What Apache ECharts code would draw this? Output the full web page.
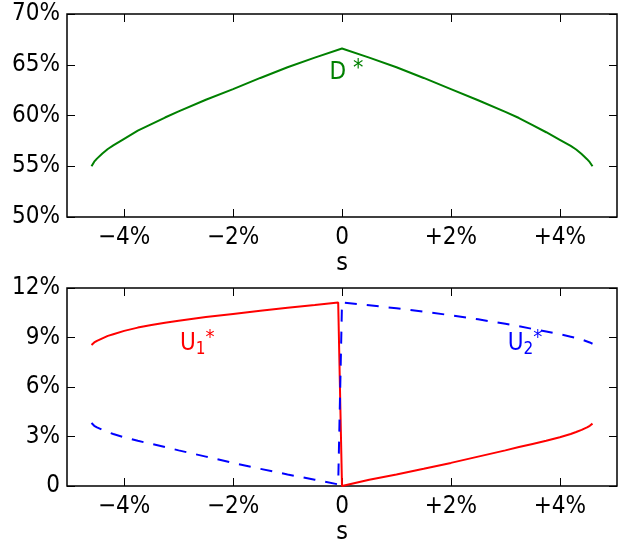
<!DOCTYPE html>
<html>
<head>
<meta charset="utf-8">
<script src="https://cdn.jsdelivr.net/npm/echarts@6/dist/echarts.min.js"></script>
<style>
html,body{margin:0;padding:0;background:#fff;}
#c{width:624px;height:546px;}
</style>
</head>
<body>
<div id="c"></div>
<script>
// ---- data (percent units) ----
const sD   = [-4.6,-4.55,-4.5,-4.4,-4.3,-4.2,-4.0,-3.75,-3.5,-3.25,-3.0,-2.5,-2.0,-1.5,-1.0,-0.5,0,
              0.5,1.0,1.5,2.0,2.5,3.0,3.25,3.5,3.75,4.0,4.2,4.3,4.4,4.5,4.55,4.6];
const dStar = [55.0,55.45,55.75,56.25,56.7,57.05,57.7,58.5,59.15,59.8,60.4,61.55,62.6,63.7,64.75,65.7,66.6,
               65.7,64.75,63.7,62.6,61.5,60.35,59.75,59.05,58.35,57.6,57.0,56.65,56.2,55.7,55.4,55.0];

const sLeft  = [-4.6,-4.55,-4.5,-4.4,-4.3,-4.2,-4.0,-3.75,-3.5,-3.25,-3.0,-2.5,-2.0,-1.5,-1.0,-0.5,-0.07];
const sRight = [0,0.5,1.0,1.5,2.0,2.5,3.0,3.25,3.5,3.75,4.0,4.2,4.3,4.4,4.5,4.55,4.6];
const u1Left  = [8.55,8.7,8.8,8.95,9.1,9.2,9.4,9.6,9.76,9.9,10.02,10.24,10.43,10.62,10.8,10.97,11.12];
const u1Right = [0,0.38,0.7,1.04,1.4,1.78,2.16,2.36,2.55,2.74,2.95,3.15,3.27,3.4,3.55,3.65,3.78];
const u2Left  = [3.82,3.65,3.55,3.4,3.27,3.15,2.95,2.74,2.55,2.36,2.16,1.78,1.4,1.04,0.7,0.38,0.1];
const u2Right = [11.12,10.95,10.77,10.56,10.35,10.1,9.83,9.68,9.52,9.36,9.2,9.05,8.97,8.88,8.76,8.7,8.62];

const xTicks = [-4,-2,0,2,4];
const yTopTicks = [50,55,60,65,70];
const yBotTicks = [0,3,6,9,12];

// annotation anchors (data coords)
const labelD  = [0.08, 64.2];
const labelU1 = [-2.66, 8.65];
const labelU2 = [3.36, 8.65];

const FONT = '"DejaVu Sans Condensed","DejaVu Sans",sans-serif';
const zip = (xs, ys) => xs.map((x, i) => [x, ys[i]]);

function xFmt(v){ if (v === 0) return '0'; return (v > 0 ? '+' : '\u2212') + Math.abs(v) + '%'; }
function yFmt(v){ return v === 0 ? '0' : v + '%'; }

const labelStyle = {color:'#000', fontFamily:FONT, fontSize:24};

function xAxis(grid, pos, main){
  return {
    type:'value', gridIndex:grid, position:pos, min:-5.05, max:5.05,
    axisLine:{show:false, onZero:false}, splitLine:{show:false},
    axisTick:{show:true, inside:true, length:8, customValues:xTicks, lineStyle:{color:'#000', width:1}},
    axisLabel: main ? Object.assign({show:true, customValues:xTicks, formatter:xFmt, margin:9}, labelStyle) : {show:false},
    name: main ? 's' : '', nameLocation:'middle', nameGap:34,
    nameTextStyle:{color:'#000', fontFamily:FONT, fontSize:25}
  };
}
function yAxis(grid, pos, main, ticks){
  return {
    type:'value', gridIndex:grid, position:pos, min:ticks[0], max:ticks[ticks.length-1],
    interval:ticks[1]-ticks[0],
    axisLine:{show:false, onZero:false}, splitLine:{show:false},
    axisTick:{show:true, inside:true, length:8, lineStyle:{color:'#000', width:1}},
    axisLabel: main ? Object.assign({show:true, formatter:yFmt, margin:7}, labelStyle) : {show:false}
  };
}

function annot(coord, fmt, color, supSize){
  return {
    symbol:'circle', symbolSize:1, itemStyle:{color:'rgba(0,0,0,0)'},
    silent:true,
    label:{show:true, position:'inside', formatter:fmt, color:color,
      rich:{
        b:{fontFamily:FONT, fontSize:24, color:color, lineHeight:30, verticalAlign:'middle'},
        sub:{fontFamily:FONT, fontSize:17, color:color, lineHeight:30, verticalAlign:'bottom'},
        sup:{fontFamily:FONT, fontSize:supSize, color:color, lineHeight:30, verticalAlign:'top'}
      }},
    data:[{coord:coord}]
  };
}

const chart = echarts.init(document.getElementById('c'), null, {renderer:'canvas'});
chart.setOption({
  animation:false,
  backgroundColor:'#fff',
  grid:[
    {left:67, right:7, top:14, height:203, show:true, borderColor:'#000', borderWidth:1.5, backgroundColor:'transparent'},
    {left:67, right:7, top:288, height:202, show:true, borderColor:'#000', borderWidth:1.5, backgroundColor:'transparent'}
  ],
  xAxis:[ xAxis(0,'bottom',true), xAxis(0,'top',false), xAxis(1,'bottom',true), xAxis(1,'top',false) ],
  yAxis:[ yAxis(0,'left',true,yTopTicks), yAxis(0,'right',false,yTopTicks), yAxis(1,'left',true,yBotTicks), yAxis(1,'right',false,yBotTicks) ],
  series:[
    {type:'line', xAxisIndex:0, yAxisIndex:0, data:zip(sD,dStar), showSymbol:false, symbol:'none',
     lineStyle:{color:'#008000', width:2}, z:3,
     markPoint:annot(labelD, '{b|D }{sup|*}', '#008000', 23)},
    {type:'line', xAxisIndex:2, yAxisIndex:2, data:zip(sLeft,u1Left).concat(zip(sRight,u1Right)), showSymbol:false, symbol:'none',
     lineStyle:{color:'#ff0000', width:2}, z:3,
     markPoint:annot(labelU1, '{b|U}{sub|1}{sup|*}', '#ff0000', 20)},
    {type:'line', xAxisIndex:2, yAxisIndex:2, data:zip(sLeft,u2Left).concat(zip(sRight,u2Right)), showSymbol:false, symbol:'none',
     lineStyle:{color:'#0000ff', width:2, type:[12,10]}, z:4,
     markPoint:annot(labelU2, '{b|U}{sub|2}{sup|*}', '#0000ff', 20)}
  ]
});
</script>
</body>
</html>
